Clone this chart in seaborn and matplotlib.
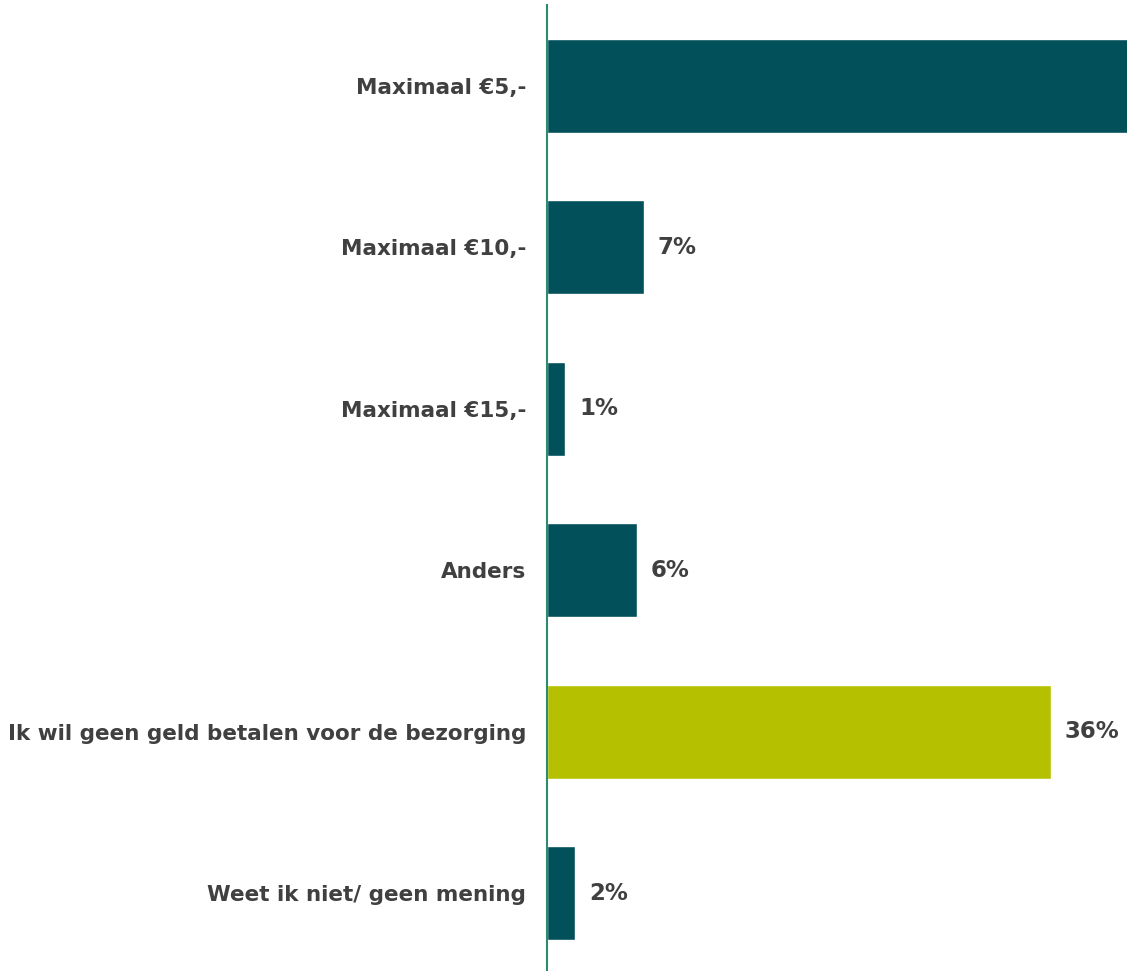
import matplotlib
matplotlib.use("Agg")
import matplotlib.pyplot as plt
import seaborn as sns
import pandas as pd

categories = ["Maximaal €5,-", "Maximaal €10,-", "Maximaal €15,-", "Anders",
              "Ik wil geen geld betalen voor de bezorging", "Weet ik niet/ geen mening"]
values = [48, 6.9, 1.3, 6.4, 36, 2.0]
labels = ["48%", "7%", "1%", "6%", "36%", "2%"]
colors = ["#02505A", "#02505A", "#02505A", "#02505A", "#B5C100", "#02505A"]

sns.set_theme(style="white")
plt.rcParams["font.family"] = ["DejaVu Sans"]

df = pd.DataFrame({"cat": categories, "val": values})

fig = plt.figure(figsize=(11.27, 9.71), dpi=100)
ax = fig.add_axes([547/1127, -3/971, 580/1127, 969/971])
sns.barplot(data=df, y="cat", x="val", hue="cat", palette=colors, legend=False,
            width=0.58, ax=ax, orient="h", saturation=1)

ax.set_xlim(0, 580/14)
ax.set_ylim(5.5, -0.5)
for s in ["top", "right", "bottom"]:
    ax.spines[s].set_visible(False)
ax.spines["left"].set_color("#2E8B70")
ax.spines["left"].set_linewidth(1.5)
ax.set_xticks([])
ax.set_xlabel("")
ax.set_ylabel("")
ax.tick_params(axis="y", length=0, pad=15)
for lbl in ax.get_yticklabels():
    lbl.set_fontsize(15.5)
    lbl.set_fontweight("bold")
    lbl.set_color("#404040")

for i, (v, t) in enumerate(zip(values, labels)):
    ax.annotate(t, xy=(v, i), xytext=(10, 0), textcoords="offset points",
                va="center", ha="left", fontsize=16.5, fontweight="bold",
                color="#404040", annotation_clip=True)

fig.savefig("out.png", dpi=100)
